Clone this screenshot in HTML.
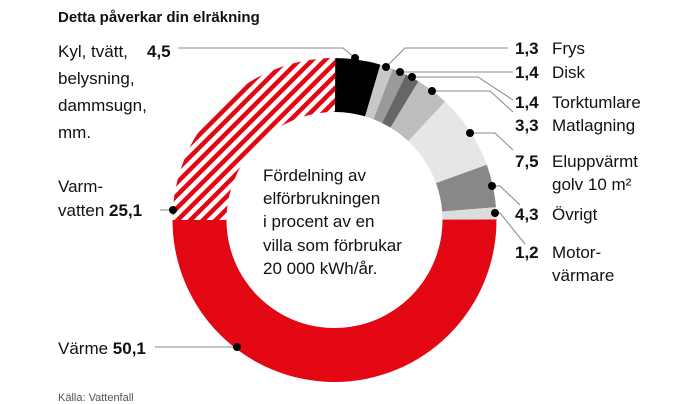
<!DOCTYPE html>
<html><head><meta charset="utf-8"><style>
body{margin:0;background:#fff;}
svg{display:block;font-family:"Liberation Sans",sans-serif;}
</style></head><body>
<svg id="c" width="690" height="404" viewBox="0 0 690 404">
<defs><pattern id="stripes" patternUnits="userSpaceOnUse" width="9" height="9" patternTransform="rotate(45)"><rect width="9" height="9" fill="#fff"/><rect width="4.5" height="9" fill="#e30613"/></pattern></defs>
<text x="58" y="22" font-size="15" font-weight="bold" fill="#111">Detta påverkar din elräkning</text>
<g id="slices"></g>
<g fill="none" stroke="#888" stroke-width="1">
<polyline points="178,48 343,48 355,58"/>
<polyline points="386,67 405,48 508,48"/>
<polyline points="400,72 513,72"/>
<polyline points="412,77 478,77 513,100"/>
<polyline points="432,91 490,91 513,112"/>
<polyline points="470,133 495,133 513,150"/>
<polyline points="492,186 500,186 520,205"/>
<polyline points="495,213 500,213 525,244"/>
<polyline points="160,210 173,210"/>
<polyline points="155,347 237,347"/>
</g>
<g fill="#000"><circle cx="355" cy="58" r="4"/><circle cx="386" cy="67" r="4"/><circle cx="400" cy="72" r="4"/><circle cx="412" cy="77" r="4"/><circle cx="432" cy="91" r="4"/><circle cx="470" cy="133" r="4"/><circle cx="492" cy="186" r="4"/><circle cx="495" cy="213" r="4"/><circle cx="173" cy="210" r="4"/><circle cx="237" cy="347" r="4"/></g>
<g font-size="17" fill="#111">
<text x="263" y="181">Fördelning av</text><text x="263" y="204">elförbrukningen</text><text x="263" y="227">i procent av en</text><text x="263" y="251">villa som förbrukar</text><text x="263" y="274">20 000 kWh/år.</text></g>
<g font-size="17" fill="#111">
<text x="58" y="57">Kyl, tvätt,</text><text x="147" y="57" font-weight="bold">4,5</text>
<text x="58" y="84">belysning,</text><text x="58" y="111">dammsugn,</text><text x="58" y="138">mm.</text>
<text x="58" y="192">Varm-</text><text x="58" y="216">vatten <tspan font-weight="bold">25,1</tspan></text>
<text x="58" y="354">Värme <tspan font-weight="bold">50,1</tspan></text></g>
<g font-size="17" fill="#111">
<text x="515" y="54" font-weight="bold">1,3</text><text x="552" y="54">Frys</text>
<text x="515" y="78" font-weight="bold">1,4</text><text x="552" y="78">Disk</text>
<text x="515" y="108" font-weight="bold">1,4</text><text x="552" y="108">Torktumlare</text>
<text x="515" y="131" font-weight="bold">3,3</text><text x="552" y="131">Matlagning</text>
<text x="515" y="167" font-weight="bold">7,5</text><text x="552" y="167">Eluppvärmt</text><text x="552" y="190">golv 10 m²</text>
<text x="515" y="220" font-weight="bold">4,3</text><text x="552" y="220">Övrigt</text>
<text x="515" y="258" font-weight="bold">1,2</text><text x="552" y="258">Motor-</text><text x="552" y="281">värmare</text></g>
<text x="58" y="401" font-size="11" fill="#555">Källa: Vattenfall</text>
</svg>
<script>
const categories=["Varmvatten","Kyl, tvätt","Frys","Disk","Torktumlare","Matlagning","Eluppvärmt golv","Övrigt","Motorvärmare","Värme"];
const values=[25.1,4.5,1.3,1.4,1.4,3.3,7.5,4.3,1.2,50.1];
const colors=["url(#stripes)","#000","#c8c8c8","#9a9a9a","#666","#bdbdbd","#e6e6e6","#888","#dcdcdc","#e30613"];
const cx=334.5,cy=220,R=162,r=108;
const total=values.reduce((a,b)=>a+b,0);
const g=document.getElementById('slices');
let a=Math.PI;
function pt(rad,ang){return [cx+rad*Math.cos(ang),cy+rad*Math.sin(ang)];}
values.forEach((v,i)=>{
 const a2=a+v/total*2*Math.PI;
 const large=(a2-a)>Math.PI?1:0;
 const p1=pt(R,a),p2=pt(R,a2),p3=pt(r,a2),p4=pt(r,a);
 const p=document.createElementNS('http://www.w3.org/2000/svg','path');
 p.setAttribute('d',`M${p1}A${R},${R} 0 ${large} 1 ${p2}L${p3}A${r},${r} 0 ${large} 0 ${p4}Z`);
 p.setAttribute('fill',colors[i]);
 
 
 g.appendChild(p);
 a=a2;
});
</script>
</body></html>
